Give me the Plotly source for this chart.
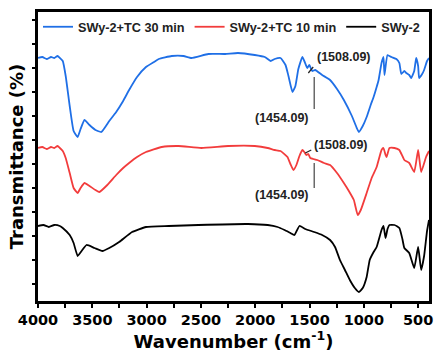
import plotly.graph_objects as go

# Wavenumber (cm-1) and offset transmittance (a.u.)
wn_30 = [4000, 3960, 3920, 3880, 3850, 3820, 3799, 3772, 3745, 3708, 3672, 3635, 3608, 3572, 3526, 3471,
         3417, 3344, 3280, 3216, 3161, 3088, 3006, 2933, 2888, 2769, 2660, 2587, 2432, 2277, 2159,
         2004, 1912, 1858, 1821, 1767, 1721, 1694, 1657, 1630, 1603, 1566, 1548, 1521, 1502, 1475,
         1448, 1384, 1311, 1247, 1184, 1110, 1065, 1046, 1010, 974, 937, 910, 882, 864, 837, 819,
         810, 782, 746, 700, 673, 655, 627, 609, 582, 564, 536, 518, 500, 491, 463, 445, 418, 400]
t_30 = [243, 244, 242, 244, 243, 245, 243, 240, 225, 195, 170, 164, 172, 181, 176, 171,
        169, 180, 189, 200, 211, 224, 234, 239, 242, 245, 245, 243, 247, 247, 248,
        246, 244, 240, 242, 243, 236, 225, 209, 215, 232, 244, 240, 233, 236, 230,
        231, 226, 221, 212, 201, 185, 173, 169, 175, 184, 196, 204, 214, 221, 238, 244,
        226, 246, 244, 242, 238, 227, 230, 228, 226, 223, 230, 243, 235, 223, 227, 231, 240, 243]

wn_10 = [4000, 3960, 3920, 3880, 3850, 3820, 3799, 3772, 3745, 3708, 3672, 3635, 3608, 3572, 3526, 3471,
         3435, 3362, 3280, 3216, 3161, 3088, 3006, 2861, 2706, 2496, 2250, 2004, 1885, 1821, 1767,
         1703, 1676, 1648, 1621, 1593, 1566, 1548, 1530, 1511, 1493, 1466, 1429, 1366, 1311, 1247,
         1184, 1138, 1092, 1056, 1028, 974, 928, 882, 837, 819, 800, 791, 764, 718, 673, 627, 582,
         536, 500, 472, 427, 400]
t_10 = [153, 154, 152, 154, 153, 155, 153, 150, 143, 128, 113, 108, 113, 118, 115, 111,
        109, 116, 126, 133, 138, 144, 149, 154, 155, 153, 155, 155, 153, 151, 150,
        144, 137, 131, 136, 145, 151, 149, 146, 147, 143, 142, 141, 138, 136, 128,
        118, 110, 101, 86, 91, 108, 123, 134, 151, 153, 146, 144, 153, 153, 151, 141, 138,
        129, 151, 129, 144, 150]

wn_0 = [4000, 3950, 3900, 3850, 3799, 3772, 3708, 3672, 3635, 3599, 3553, 3480, 3407, 3344, 3253,
        3134, 3006, 2797, 2523, 2067, 1885, 1794, 1730, 1676, 1639, 1593, 1539, 1457, 1384, 1311,
        1265, 1220, 1174, 1129, 1083, 1046, 1010, 974, 946, 910, 882, 837, 819, 800, 782, 764,
        718, 673, 645, 627, 582, 536, 500, 472, 445, 418, 400]
t_0 = [75, 76, 74, 76, 75, 73, 66, 58, 45, 50, 56, 53, 50, 53, 59,
       69, 74, 75, 76, 77, 76, 74, 71, 68, 66, 75, 72, 69, 66, 61,
       54, 41, 31, 21, 13, 9, 13, 24, 41, 49, 54, 71, 75, 63, 72, 76,
       76, 73, 62, 53, 48, 33, 54, 31, 45, 70, 81]

series_names = ["SWy-2+TC 30 min", "SWy-2+TC 10 min", "SWy-2"]
series_colors = ["#1f6fe6", "#f23c3c", "#000000"]

x_ticks = [4000, 3500, 3000, 2500, 2000, 1500, 1000, 500]

fig = go.Figure()
for wn, t, name, col in zip([wn_30, wn_10, wn_0], [t_30, t_10, t_0], series_names, series_colors):
    fig.add_trace(go.Scatter(x=wn, y=t, mode="lines", name=f"<b>{name}</b>",
                             line=dict(color=col, width=1.8, shape="spline", smoothing=0.4)))

ann_font = dict(family="Arial", size=12.5, color="#222222")
annotations = []
shapes = []
# blue labels
annotations.append(dict(x=1447, y=244, text="<b>(1508.09)</b>", xanchor="left", yanchor="middle",
                        showarrow=False, font=ann_font))
annotations.append(dict(x=1484, y=183, text="<b>(1454.09)</b>", xanchor="right", yanchor="middle",
                        showarrow=False, font=ann_font))
shapes.append(dict(type="line", x0=1511, y0=228, x1=1466, y1=234, line=dict(color="#222222", width=1.2)))
shapes.append(dict(type="line", x0=1457, y0=224, x1=1457, y1=192, line=dict(color="#444444", width=1.2)))
# red labels
annotations.append(dict(x=1475, y=156, text="<b>(1508.09)</b>", xanchor="left", yanchor="middle",
                        showarrow=False, font=ann_font))
annotations.append(dict(x=1484, y=106, text="<b>(1454.09)</b>", xanchor="right", yanchor="middle",
                        showarrow=False, font=ann_font))
shapes.append(dict(type="line", x0=1539, y0=148, x1=1484, y1=151, line=dict(color="#222222", width=1.2)))
shapes.append(dict(type="line", x0=1457, y0=138, x1=1457, y1=113, line=dict(color="#444444", width=1.2)))

axis_font = dict(family="DejaVu Sans", size=14.5, color="black")
fig.update_layout(
    width=438, height=352,
    margin=dict(l=38, r=5, t=12, b=51),
    paper_bgcolor="white", plot_bgcolor="white",
    showlegend=True,
    legend=dict(orientation="h", x=0, xanchor="left", y=1.0, yanchor="top",
                font=dict(family="Arial", size=12.7, color="#222222"),
                bgcolor="rgba(0,0,0,0)", itemwidth=30, tracegroupgap=0),
    annotations=annotations,
    shapes=shapes,
)
fig.update_xaxes(range=[4000, 400], tickvals=x_ticks, ticktext=[f"<b>{v}</b>" for v in x_ticks],
                 tickfont=axis_font, ticks="outside", ticklen=4, tickwidth=2, tickcolor="black",
                 minor=dict(ticks="outside", ticklen=4, tickwidth=2, tickcolor="black", dtick=250, tick0=0),
                 showline=True, linewidth=2.5, linecolor="black", mirror=True, showgrid=False, zeroline=False,
                 title=dict(text="<b>Wavenumber (cm<sup>-1</sup>)</b>",
                            font=dict(family="DejaVu Sans", size=18, color="black"), standoff=2))
fig.update_yaxes(range=[0, 289], showticklabels=False, ticks="outside", ticklen=3, tickwidth=1.5,
                 tickcolor="black", dtick=24, tick0=17,
                 showline=True, linewidth=2.5, linecolor="black", mirror=True, showgrid=False, zeroline=False,
                 title=dict(text="<b>Transmittance (%)</b>", font=dict(family="DejaVu Sans", size=18, color="black"),
                            standoff=4))

fig.write_html("out.html")
